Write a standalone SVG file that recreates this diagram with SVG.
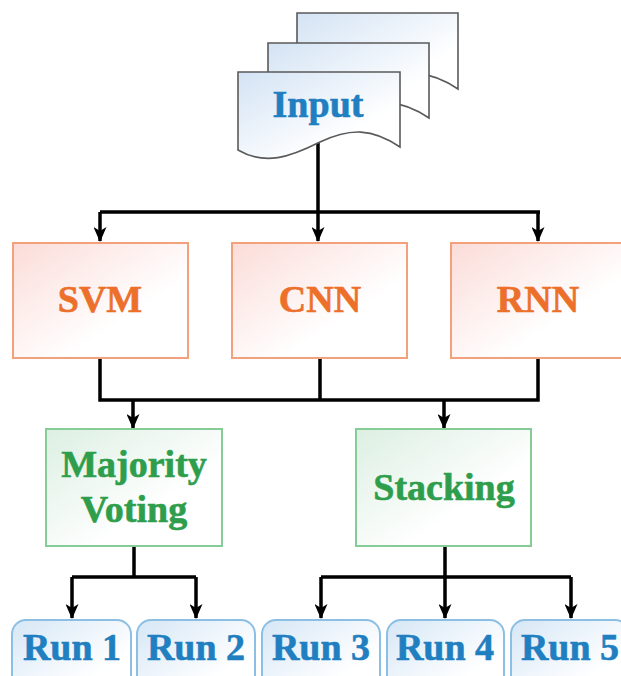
<svg xmlns="http://www.w3.org/2000/svg" width="621" height="676" viewBox="0 0 621 676">
  <defs>
    <linearGradient id="gDoc" x1="0" y1="0" x2="1" y2="1">
      <stop offset="0" stop-color="#d3e3f4"/>
      <stop offset="0.7" stop-color="#ffffff"/>
    </linearGradient>
    <linearGradient id="gModel" x1="0" y1="0" x2="1" y2="1">
      <stop offset="0" stop-color="#fbdcd8"/>
      <stop offset="0.65" stop-color="#ffffff"/>
    </linearGradient>
    <linearGradient id="gEns" x1="0" y1="0" x2="1" y2="1">
      <stop offset="0" stop-color="#dcefe2"/>
      <stop offset="0.65" stop-color="#ffffff"/>
    </linearGradient>
    <linearGradient id="gRun" x1="0" y1="0" x2="1" y2="1">
      <stop offset="0" stop-color="#d6e7f6"/>
      <stop offset="0.7" stop-color="#ffffff"/>
    </linearGradient>
    <marker id="arrow" viewBox="0 0 15 13" refX="14" refY="6.5" markerWidth="15" markerHeight="13" markerUnits="userSpaceOnUse" orient="auto">
      <path d="M0,0 L15,6.5 L0,13 L4,6.5 Z" fill="#000"/>
    </marker>
  </defs>
  <style>
    .doc { fill: url(#gDoc); stroke: #5a5a5a; stroke-width: 1.6; }
    .model { fill: url(#gModel); stroke: #f3a07c; stroke-width: 2; }
    .ens { fill: url(#gEns); stroke: #86cc96; stroke-width: 2; }
    .run { fill: url(#gRun); stroke: #8cbfe3; stroke-width: 2; }
    .wire { fill: none; stroke: #000; stroke-width: 3.5; }
    .arr { fill: none; stroke: #000; stroke-width: 3.5; marker-end: url(#arrow); }
  </style>

  <!-- connectors -->
  <g id="connectors">
    <path class="wire" d="M318,143 V212 M100,212 H540"/>
    <path class="arr" d="M100,212 V241"/>
    <path class="arr" d="M318,212 V241"/>
    <path class="arr" d="M538,212 V241"/>
    <path class="wire" d="M100,358 V400 H538 V358 M320,358 V400"/>
    <path class="arr" d="M133,400 V428"/>
    <path class="arr" d="M444,400 V428"/>
    <path class="wire" d="M134,546 V577 M72,577 H196"/>
    <path class="arr" d="M72,577 V618"/>
    <path class="arr" d="M196,577 V618"/>
    <path class="wire" d="M445,546 V577 M321,577 H571"/>
    <path class="arr" d="M321,577 V618"/>
    <path class="arr" d="M445,577 V618"/>
    <path class="arr" d="M571,577 V618"/>
  </g>

  <!-- stacked input documents -->
  <g id="input">
    <path class="doc" d="M297,13 H458 V89 C430,70 408,70 379,84 C349,99 324,108 297,92 Z"/>
    <path class="doc" d="M268,43 H429 V118 C401,99 379,99 349,113 C319,128 295,137 268,121 Z"/>
    <path class="doc" d="M238,72 H400 V147 C372,128 350,128 320,142 C290,157 265,166 238,150 Z"/>
    <text x="318" y="117" font-family="Liberation Serif" font-weight="bold" font-size="38" text-anchor="middle" fill="#1f7fc0" stroke="#1f7fc0" stroke-width="0.6">Input</text>
  </g>

  <g id="svm">
    <rect class="model" x="13" y="243" width="175" height="115"/>
    <text x="100" y="312" font-family="Liberation Serif" font-weight="bold" font-size="38" text-anchor="middle" fill="#ec6f2a" stroke="#ec6f2a" stroke-width="0.6">SVM</text>
  </g>
  <g id="cnn">
    <rect class="model" x="232" y="243" width="175" height="115"/>
    <text x="320" y="312" font-family="Liberation Serif" font-weight="bold" font-size="38" text-anchor="middle" fill="#ec6f2a" stroke="#ec6f2a" stroke-width="0.6">CNN</text>
  </g>
  <g id="rnn">
    <rect class="model" x="451" y="243" width="175" height="115"/>
    <text x="538" y="312" font-family="Liberation Serif" font-weight="bold" font-size="38" text-anchor="middle" fill="#ec6f2a" stroke="#ec6f2a" stroke-width="0.6">RNN</text>
  </g>

  <g id="majority-voting">
    <rect class="ens" x="46" y="429" width="176" height="117"/>
    <text x="134" y="477" font-family="Liberation Serif" font-weight="bold" font-size="38" text-anchor="middle" fill="#2f9e4c" stroke="#2f9e4c" stroke-width="0.6">Majority</text>
    <text x="134" y="522" font-family="Liberation Serif" font-weight="bold" font-size="38" text-anchor="middle" fill="#2f9e4c" stroke="#2f9e4c" stroke-width="0.6">Voting</text>
  </g>
  <g id="stacking">
    <rect class="ens" x="356" y="429" width="175" height="117"/>
    <text x="444" y="500" font-family="Liberation Serif" font-weight="bold" font-size="38" text-anchor="middle" fill="#2f9e4c" stroke="#2f9e4c" stroke-width="0.6">Stacking</text>
  </g>

  <g id="run1">
    <rect class="run" x="12" y="620" width="119" height="80" rx="14"/>
    <text x="72" y="660" font-family="Liberation Serif" font-weight="bold" font-size="38" text-anchor="middle" fill="#1f7fc0" stroke="#1f7fc0" stroke-width="0.6">Run 1</text>
  </g>
  <g id="run2">
    <rect class="run" x="137" y="620" width="118" height="80" rx="14"/>
    <text x="196" y="660" font-family="Liberation Serif" font-weight="bold" font-size="38" text-anchor="middle" fill="#1f7fc0" stroke="#1f7fc0" stroke-width="0.6">Run 2</text>
  </g>
  <g id="run3">
    <rect class="run" x="262" y="620" width="118" height="80" rx="14"/>
    <text x="321" y="660" font-family="Liberation Serif" font-weight="bold" font-size="38" text-anchor="middle" fill="#1f7fc0" stroke="#1f7fc0" stroke-width="0.6">Run 3</text>
  </g>
  <g id="run4">
    <rect class="run" x="387" y="620" width="117" height="80" rx="14"/>
    <text x="445" y="660" font-family="Liberation Serif" font-weight="bold" font-size="38" text-anchor="middle" fill="#1f7fc0" stroke="#1f7fc0" stroke-width="0.6">Run 4</text>
  </g>
  <g id="run5">
    <rect class="run" x="511" y="620" width="118" height="80" rx="14"/>
    <text x="570" y="660" font-family="Liberation Serif" font-weight="bold" font-size="38" text-anchor="middle" fill="#1f7fc0" stroke="#1f7fc0" stroke-width="0.6">Run 5</text>
  </g>
</svg>
